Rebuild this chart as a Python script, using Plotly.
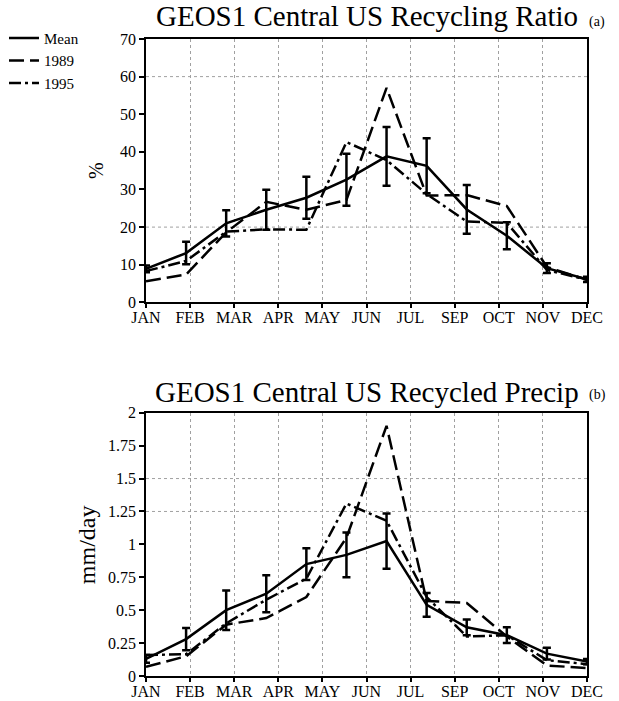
import numpy as np
import plotly.graph_objects as go

# ---------------- data ----------------
point_months = ["JAN", "FEB", "MAR", "APR", "MAY", "JUN",
                "JUL", "AUG", "SEP", "OCT", "NOV", "DEC"]
tick_labels = ["JAN", "FEB", "MAR", "APR", "MAY", "JUN",
               "JUL", "SEP", "OCT", "NOV", "DEC"]

# (a) recycling ratio, %
ratio_mean = [8.9, 13.1, 21.0, 24.6, 27.8, 32.6, 38.8, 36.3, 24.7, 17.7, 9.1, 6.1]
ratio_err = [0.9, 3.0, 3.5, 5.3, 5.6, 6.9, 7.8, 7.3, 6.5, 3.6, 1.3, 0.7]
ratio_1989 = [5.6, 7.4, 18.6, 26.7, 24.6, 27.2, 57.0, 28.4, 28.5, 25.6, 9.4, 6.0]
ratio_1995 = [8.3, 11.0, 18.8, 19.4, 19.3, 42.6, 37.8, 28.8, 21.5, 21.1, 8.6, 6.0]

# (b) recycled precipitation, mm/day
prec_mean = [0.13, 0.28, 0.50, 0.625, 0.85, 0.92, 1.025, 0.54, 0.37, 0.31, 0.17, 0.11]
prec_err = [0.03, 0.085, 0.15, 0.14, 0.12, 0.17, 0.21, 0.09, 0.06, 0.06, 0.045, 0.02]
prec_1989 = [0.07, 0.15, 0.39, 0.44, 0.60, 1.05, 1.90, 0.57, 0.555, 0.30, 0.08, 0.06]
prec_1995 = [0.16, 0.165, 0.40, 0.58, 0.74, 1.31, 1.18, 0.60, 0.30, 0.31, 0.12, 0.09]

ratio_ticks = [0, 10, 20, 30, 40, 50, 60, 70]
prec_ticks = [0, 0.25, 0.5, 0.75, 1, 1.25, 1.5, 1.75, 2]
prec_ticktext = ["0", "0.25", "0.5", "0.75", "1", "1.25", "1.5", "1.75", "2"]
ratio_hgrid = [20, 60]
prec_hgrid = [1.25, 1.5]

series_names = ["Mean", "1989", "1995"]

# ---------------- styling ----------------
FONT = "Liberation Serif"
LW = 2.5
dashes = ["solid", "15px,6px", "12px,4px,3px,4px"]

x_pts = np.arange(len(point_months))
x_ticks = np.linspace(0, len(point_months) - 1, len(tick_labels))

fig = go.Figure()

panels = [
    ("x", "y", ratio_mean, ratio_err, ratio_1989, ratio_1995, True),
    ("x2", "y2", prec_mean, prec_err, prec_1989, prec_1995, False),
]
for xa, ya, mean, err, s89, s95, show in panels:
    fig.add_trace(go.Scatter(
        x=x_pts, y=mean, xaxis=xa, yaxis=ya, mode="lines", name=series_names[0],
        line=dict(color="black", width=LW, dash=dashes[0]),
        error_y=dict(type="data", array=err, visible=True, color="black",
                     thickness=2.5, width=4),
        showlegend=show, cliponaxis=False))
    fig.add_trace(go.Scatter(
        x=x_pts, y=s89, xaxis=xa, yaxis=ya, mode="lines", name=series_names[1],
        line=dict(color="black", width=LW, dash=dashes[1]),
        showlegend=show, cliponaxis=False))
    fig.add_trace(go.Scatter(
        x=x_pts, y=s95, xaxis=xa, yaxis=ya, mode="lines", name=series_names[2],
        line=dict(color="black", width=LW, dash=dashes[2]),
        showlegend=show, cliponaxis=False))

xaxis_common = dict(
    range=[x_pts[0], x_pts[-1]], tickmode="array", tickvals=x_ticks,
    ticktext=tick_labels, showgrid=True, gridcolor="#a0a0a0", gridwidth=1,
    griddash="dot", showline=True, linecolor="black", linewidth=1.5,
    mirror=True, ticks="outside", ticklen=4, tickwidth=1.5, tickcolor="black",
    ticklabelstandoff=-4,
    zeroline=False, tickfont=dict(family=FONT, size=16, color="black"),
)
yaxis_common = dict(
    showgrid=False, showline=True, linecolor="black", linewidth=1.5,
    mirror=True, ticks="outside", ticklen=5, tickwidth=1.5, tickcolor="black",
    zeroline=False, tickfont=dict(family=FONT, size=16, color="black"),
)

top_dom = [0.5866, 1.0]
bot_dom = [0.0, 0.4133]

fig.update_layout(
    width=619, height=701,
    margin=dict(l=146, r=32, t=39, b=25, autoexpand=False),
    paper_bgcolor="white", plot_bgcolor="white",
    font=dict(family=FONT, color="black"),
    xaxis=dict(**xaxis_common, domain=[0, 1], anchor="y"),
    yaxis=dict(**yaxis_common, domain=top_dom, anchor="x",
               range=[ratio_ticks[0], ratio_ticks[-1]], tickvals=ratio_ticks),
    xaxis2=dict(**xaxis_common, domain=[0, 1], anchor="y2"),
    yaxis2=dict(**yaxis_common, domain=bot_dom, anchor="x2",
                range=[prec_ticks[0], prec_ticks[-1]], tickvals=prec_ticks,
                ticktext=prec_ticktext),
    showlegend=True,
    legend=dict(x=-0.322, y=1.027, xanchor="left", yanchor="top",
                font=dict(family=FONT, size=15, color="black"),
                bgcolor="rgba(0,0,0,0)", borderwidth=0, tracegroupgap=0,
                itemwidth=30),
)

# horizontal dotted grid lines
for yref, vals in (("y", ratio_hgrid), ("y2", prec_hgrid)):
    for v in vals:
        fig.add_shape(type="line", xref=("x domain" if yref == "y" else "x2 domain"),
                      yref=yref, x0=0, x1=1, y0=v, y1=v, layer="below",
                      line=dict(color="#a0a0a0", width=1, dash="dot"))

# titles
fig.add_annotation(text="GEOS1 Central US Recycling Ratio", xref="x domain", yref="y domain",
                   x=0.5, y=1.088, xanchor="center", yanchor="middle", showarrow=False,
                   font=dict(family=FONT, size=29, color="black"))
fig.add_annotation(text="(a)", xref="x domain", yref="y domain",
                   x=1.0, y=1.066, xanchor="left", yanchor="middle", showarrow=False,
                   font=dict(family=FONT, size=14, color="black"))
fig.add_annotation(text="GEOS1 Central US Recycled Precip", xref="x2 domain", yref="y2 domain",
                   x=0.5, y=1.078, xanchor="center", yanchor="middle", showarrow=False,
                   font=dict(family=FONT, size=29, color="black"))
fig.add_annotation(text="(b)", xref="x2 domain", yref="y2 domain",
                   x=1.0, y=1.068, xanchor="left", yanchor="middle", showarrow=False,
                   font=dict(family=FONT, size=14, color="black"))

# y-axis titles
fig.add_annotation(text="%", xref="x domain", yref="y domain", x=-0.115, y=0.5,
                   textangle=-90, showarrow=False, xanchor="center", yanchor="middle",
                   font=dict(family=FONT, size=20, color="black"))
fig.add_annotation(text="mm/day", xref="x2 domain", yref="y2 domain", x=-0.132, y=0.5,
                   textangle=-90, showarrow=False, xanchor="center", yanchor="middle",
                   font=dict(family=FONT, size=24, color="black"))

fig.write_html("out.html")
